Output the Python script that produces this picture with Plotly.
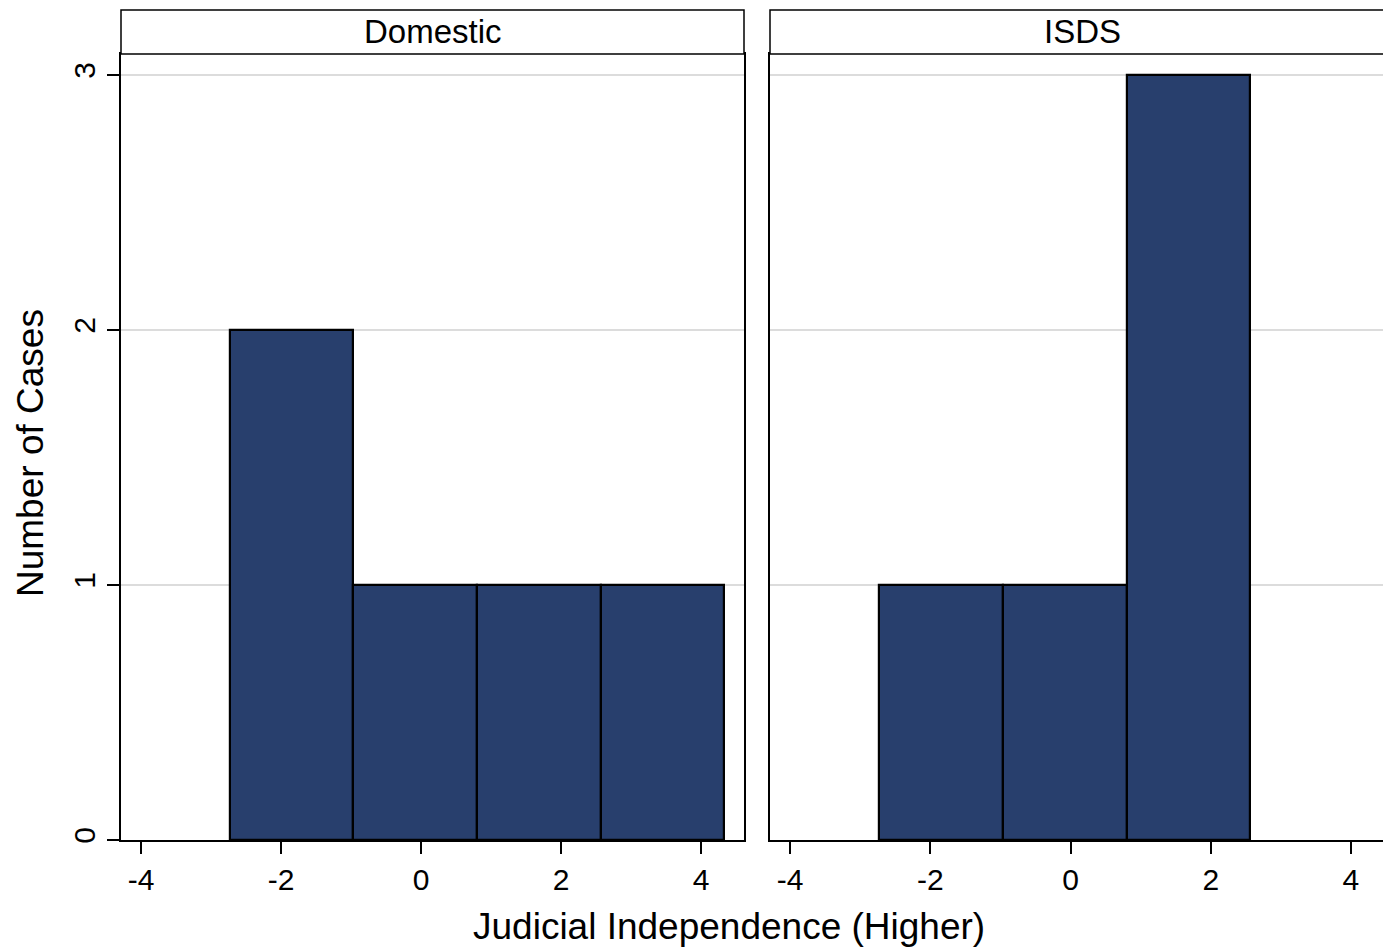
import plotly.graph_objects as go

# ---- data ----
panels = ["Domestic", "ISDS"]
bin_edges = [-2.73, -0.965, 0.8, 2.565, 4.33]
domestic_counts = [2, 1, 1, 1]
isds_counts = [1, 1, 3, 0]
x_ticks = [-4, -2, 0, 2, 4]
y_ticks = [0, 1, 2, 3]
x_title = "Judicial Independence (Higher)"
y_title = "Number of Cases"

centers = [(a + b) / 2 for a, b in zip(bin_edges[:-1], bin_edges[1:])]
widths = [b - a for a, b in zip(bin_edges[:-1], bin_edges[1:])]

BAR = "#283f6d"
FONT = "Liberation Sans, Arial, Helvetica, sans-serif"
W, H = 1383, 951
ML, MR, MT, MB = 121, 0, 54, 111
PW = W - ML - MR
PH = H - MT - MB

fig = go.Figure()
for i, counts in enumerate([domestic_counts, isds_counts]):
    keep = [k for k, c in enumerate(counts) if c > 0]
    fig.add_trace(go.Bar(
        x=[centers[k] for k in keep], y=[counts[k] for k in keep],
        width=[widths[k] for k in keep],
        marker=dict(color=BAR, line=dict(color="black", width=2.2)),
        xaxis="x" if i == 0 else "x2", yaxis="y" if i == 0 else "y2",
        showlegend=False, hoverinfo="x+y",
    ))

d1 = [0, (744 - ML) / PW]
d2 = [(770 - ML) / PW, 1]

common_x = dict(
    tickvals=x_ticks, ticktext=[str(v) for v in x_ticks],
    ticks="outside", ticklen=12, tickwidth=1.5, tickcolor="black",
    showline=True, linecolor="black", linewidth=1.5,
    showgrid=False, zeroline=False,
    tickfont=dict(family=FONT, size=30, color="black"),
)
fig.update_layout(
    width=W, height=H,
    margin=dict(l=ML, r=MR, t=MT, b=MB),
    paper_bgcolor="white", plot_bgcolor="white",
    bargap=0,
    xaxis=dict(domain=d1, range=[-4.286, 4.614], mirror=True, anchor="y", **common_x),
    xaxis2=dict(domain=d2, range=[-4.286, 4.457], mirror=True, anchor="y2", **common_x),
    yaxis=dict(
        domain=[0, 1], range=[0, 3.082], anchor="x",
        tickvals=y_ticks, ticktext=[str(v) for v in y_ticks],
        ticks="outside", ticklen=12, tickwidth=1.5, tickcolor="black",
        tickangle=-90,
        tickfont=dict(family=FONT, size=30, color="black"),
        showline=True, linecolor="black", linewidth=1.5, mirror=True,
        showgrid=True, gridcolor="#dcdcdc", gridwidth=2,
        zeroline=False,
    ),
    yaxis2=dict(
        domain=[0, 1], range=[0, 3.082], anchor="x2",
        tickvals=y_ticks, showticklabels=False, ticks="",
        showline=True, linecolor="black", linewidth=1.5, mirror=False,
        showgrid=True, gridcolor="#dcdcdc", gridwidth=2,
        zeroline=False,
    ),
)

# strip headers
strip_top = 1 + (MT - 10) / PH
for name, dom, x1 in [(panels[0], d1, d1[1]), (panels[1], d2, 1.05)]:
    fig.add_shape(type="rect", xref="paper", yref="paper",
                  x0=dom[0], x1=x1, y0=1, y1=strip_top,
                  line=dict(color="black", width=1.5), fillcolor="white", layer="above")
    fig.add_annotation(xref="paper", yref="paper",
                       x=(dom[0] + dom[1]) / 2 if name == panels[0] else (1082 - ML) / PW,
                       y=(1 + strip_top) / 2, text=name, showarrow=False,
                       xanchor="center", yanchor="middle",
                       font=dict(family=FONT, size=33, color="black"))

# axis titles
fig.add_annotation(xref="paper", yref="paper", x=(729 - ML) / PW, y=-(927 - (MT + PH)) / PH,
                   text=x_title, showarrow=False, xanchor="center", yanchor="middle",
                   font=dict(family=FONT, size=37, color="black"))
fig.add_annotation(xref="paper", yref="paper", x=-(ML - 30) / PW, y=(840 - 453) / PH,
                   text=y_title, showarrow=False, textangle=-90, xanchor="center", yanchor="middle",
                   font=dict(family=FONT, size=37, color="black"))

fig.write_html("out.html", config={"displayModeBar": False},
               post_script="document.body.style.margin='0';")
